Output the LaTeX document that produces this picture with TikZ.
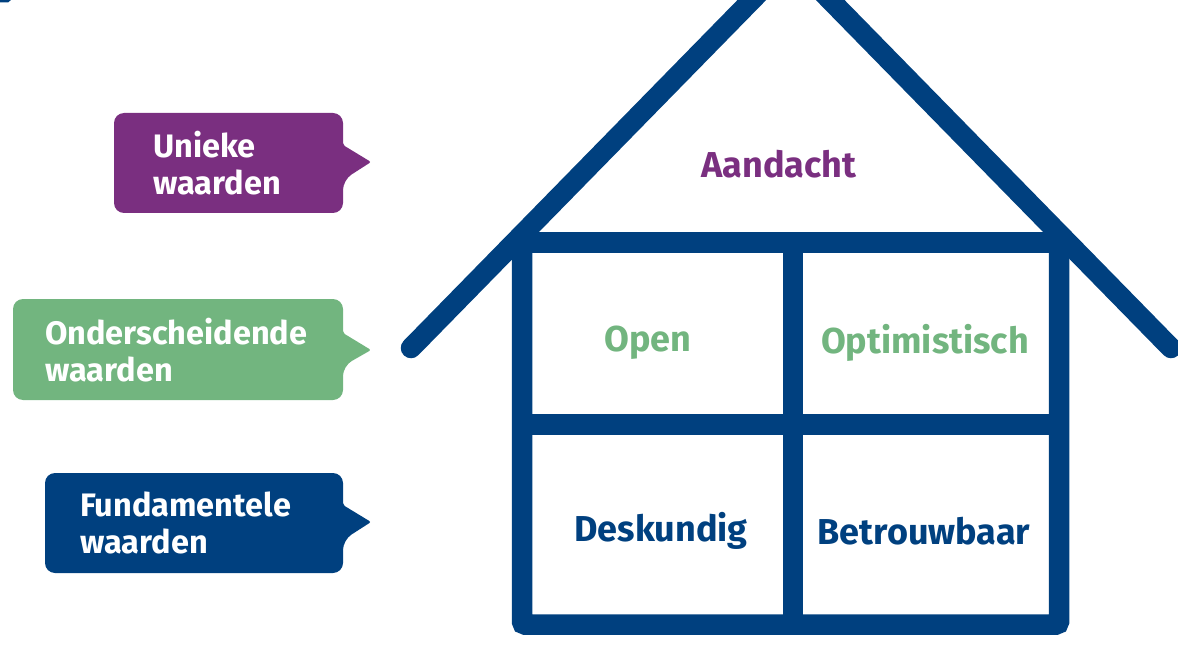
\documentclass[tikz,border=0pt]{standalone}
\usepackage{fontspec}
\setmainfont{Fira Sans}
\definecolor{navy}{HTML}{00407F}
\definecolor{plum}{HTML}{7A2F80}
\definecolor{sage}{HTML}{72B57F}
\begin{document}
\begin{tikzpicture}[x=1pt,y=-1pt,
  wall/.style={draw=navy,line width=20.5pt},
  bubble/.style={rounded corners=10pt},
  bubtext/.style={inner sep=0pt,anchor=west,align=left,text=white,font=\bfseries\fontsize{32.5}{37}\selectfont},
  room/.style={inner sep=0pt,font=\bfseries\fontsize{36}{40}\selectfont}]
\useasboundingbox (0,0) rectangle (1178,647);
% small cut-off mark top left
\fill[navy] (0,0) -- (11,0) -- (8,2.5) -- (0,2.5) -- cycle;
% house body
\draw[wall,rounded corners=3pt] (522,242.5) rectangle (1059,624.5);
\coordinate (midT) at (793,242.5);
\coordinate (midB) at (793,624.5);
\coordinate (midL) at (522,424.5);
\coordinate (midR) at (1059,424.5);
\draw[wall] (midT) -- (midB);
\draw[wall] (midL) -- (midR);
% roof
\coordinate (peak) at (791,-40);
\coordinate (eaveL) at (411,348);
\coordinate (eaveR) at (1171,348);
\draw[wall,line cap=round] (eaveL) -- (peak) -- (eaveR);
% rooms
\node[room,text=plum] (aandacht) at (779,164) {Aandacht};
\node[room,text=sage] (open) at (648,343) {Open};
\node[room,text=sage] (optim) at (925,343) {Optimistisch};
\node[room,text=navy] (desk) at (661,531) {Deskundig};
\node[room,text=navy] (betr) at (924,531) {Betrouwbaar};
% callouts
\fill[plum,bubble] (343,145) -- (343,113) -- (114,113) -- (114,213) -- (343,213) -- (343,180) [rounded corners=2pt] -- (371,162) -- cycle;
\node[bubtext] (uniek) at (153,163) {Unieke\\waarden};
\fill[sage,bubble] (343,333) -- (343,299) -- (13,299) -- (13,400) -- (343,400) -- (343,366) [rounded corners=2pt] -- (371,350) -- cycle;
\node[bubtext] (onder) at (45,350) {Onderscheidende\\waarden};
\fill[navy,bubble] (343,505) -- (343,473) -- (45,473) -- (45,573) -- (343,573) -- (343,540) [rounded corners=2pt] -- (371,522) -- cycle;
\node[bubtext] (fund) at (80,523) {Fundamentele\\waarden};
\end{tikzpicture}
\end{document}
